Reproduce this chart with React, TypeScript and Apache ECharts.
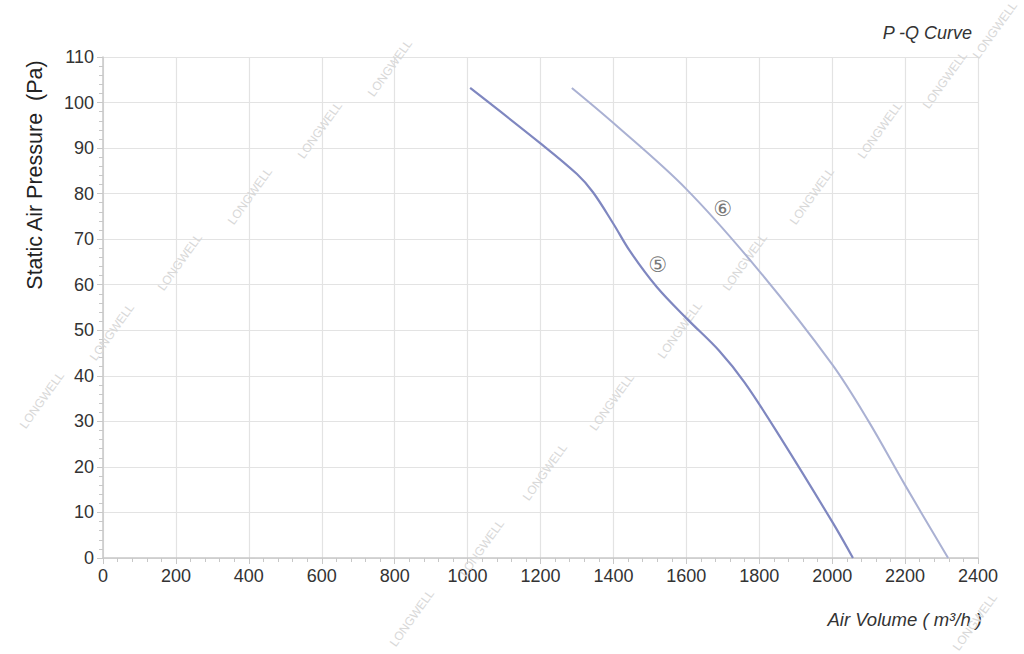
import React, { useEffect, useRef } from "react";
import * as echarts from "echarts";

const xTicks = [0, 200, 400, 600, 800, 1000, 1200, 1400, 1600, 1800, 2000, 2200, 2400];
const yTicks = [0, 10, 20, 30, 40, 50, 60, 70, 80, 90, 100, 110];

const curve5: [number, number][] = [
  [1007, 103.2], [1199, 91.1], [1300, 84.3], [1344, 80.3], [1399, 73.5],
  [1446, 67.3], [1519, 59.5], [1602, 52.5], [1690, 45.5], [1760, 38.5],
  [1857, 26.6], [2002, 7.7], [2057, 0],
];
const curve6: [number, number][] = [
  [1286, 103.2], [1400, 95.5], [1600, 81], [1800, 63], [2000, 42.5],
  [2100, 30], [2200, 16], [2318, 0],
];
const curveLabels: { name: string; value: [number, number] }[] = [
  { name: "⑤", value: [1522, 64.3] },
  { name: "⑥", value: [1700, 76.6] },
];
const watermarkPos: [number, number][] = [
  [42, 400], [112, 332], [180, 262], [250, 196], [320, 130], [390, 68],
  [412, 618], [482, 548], [545, 472], [612, 402], [680, 330], [745, 262],
  [812, 196], [880, 130], [945, 80], [995, 30], [975, 622],
];

export default function App() {
  const ref = useRef<HTMLDivElement>(null);
  useEffect(() => {
    const chart = echarts.init(ref.current!, null, { renderer: "svg" });
    const font = "'Liberation Sans', Arial, sans-serif";
    const axisCommon = {
      type: "value",
      axisLine: { show: true, lineStyle: { color: "#c8c8c8", width: 1.5 } },
      axisTick: { show: true, length: 6, lineStyle: { color: "#c8c8c8" } },
      minorTick: { show: true, splitNumber: 5, length: 4, lineStyle: { color: "#c8c8c8" } },
      splitLine: { show: true, lineStyle: { color: "#e3e3e3", width: 1.2 } },
      axisLabel: {
        color: "#333",
        fontSize: 18,
        fontFamily: font,
        margin: 9,
        formatter: (v: number) => String(v),
      },
    };
    chart.setOption({
      animation: false,
      backgroundColor: "#ffffff",
      grid: { left: 103, right: 46, top: 57, bottom: 96 },
      xAxis: { ...axisCommon, min: xTicks[0], max: xTicks[xTicks.length - 1], interval: 200 },
      yAxis: { ...axisCommon, min: yTicks[0], max: yTicks[yTicks.length - 1], interval: 10 },
      series: [
        {
          type: "line",
          data: curve5,
          smooth: 0.35,
          showSymbol: false,
          lineStyle: { color: "#7f87c0", width: 2.2 },
          z: 3,
        },
        {
          type: "line",
          data: curve6,
          smooth: 0.35,
          showSymbol: false,
          lineStyle: { color: "#aab1d3", width: 2 },
          z: 3,
        },
        {
          type: "scatter",
          data: curveLabels,
          symbolSize: 0,
          label: {
            show: true,
            position: "inside",
            formatter: (p: any) => p.name,
            color: "#555",
            fontSize: 21,
            fontFamily: "'DejaVu Sans', sans-serif",
          },
          z: 4,
        },
      ],
      graphic: [
        ...watermarkPos.map(([x, y]) => ({
          type: "text",
          x,
          y,
          rotation: 0.95,
          silent: true,
          z: 1,
          style: {
            text: "LONGWELL",
            fill: "#d8d8d8",
            font: `12px ${font}`,
            align: "center",
            verticalAlign: "middle",
          },
        })),
        {
          type: "text",
          x: 972,
          y: 33,
          style: {
            text: "P -Q Curve",
            fill: "#333",
            font: `italic 18px ${font}`,
            align: "right",
            verticalAlign: "middle",
          },
        },
        {
          type: "text",
          x: 35,
          y: 175,
          rotation: Math.PI / 2,
          style: {
            text: "Static Air Pressure  (Pa)",
            fill: "#222",
            font: `21.5px ${font}`,
            align: "center",
            verticalAlign: "middle",
          },
        },
        {
          type: "text",
          x: 982,
          y: 619,
          style: {
            text: "Air Volume ( m³/h )",
            fill: "#333",
            font: `italic 18.5px ${font}`,
            align: "right",
            verticalAlign: "middle",
          },
        },
      ],
    });
    return () => chart.dispose();
  }, []);
  return (
    <div
      ref={ref}
      style={{ position: "fixed", left: 0, top: 0, width: 1024, height: 654 }}
    />
  );
}
